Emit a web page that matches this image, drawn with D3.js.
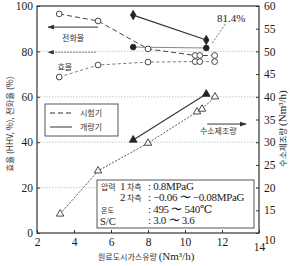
<!DOCTYPE html>
<html>
<head>
<meta charset="utf-8">
<script src="https://cdn.jsdelivr.net/npm/d3@7"></script>
<style>
  body { margin: 0; background: #fff; }
  .num { font-family: "Liberation Serif", "DejaVu Serif", serif; fill: #1a1a1a; }
  .kr { font-family: "Noto Sans CJK KR", sans-serif; fill: #333; }
</style>
</head>
<body>
<div id="chart"></div>
<script>
// test unit (시험기) points
const testX = [3.2, 5.3, 8.0, 10.55, 10.8, 11.6];
const testConversion = [96.5, 93.4, 81.1, 78.2, 78.2, 78.2];
const testEfficiency = [68.7, 74.0, 75.3, 75.5, 75.5, 75.5];
const testH2X = [3.25, 5.3, 8.0, 10.65, 10.92, 11.62];
const testH2 = [14.2, 23.7, 29.8, 36.7, 37.3, 40.0];

// improved unit (개량기) points
const devX = [7.2, 11.15];
const devConversion = [96.0, 85.0];
const devEfficiency = [81.9, 81.5];
const devH2 = [30.5, 40.6];

const xTicks = [2, 4, 6, 8, 10, 12, 14];
const leftTicks = [0, 20, 40, 60, 80, 100];
const rightTicks = [10, 15, 20, 25, 30, 35, 40, 45, 50, 55, 60];

const width = 290, height = 266;
const margin = {top: 6, right: 31, bottom: 33, left: 37};

const svg = d3.select("#chart").append("svg")
  .attr("width", width)
  .attr("height", height);

const x = d3.scaleLinear().domain([2, 14]).range([margin.left, width - margin.right]);
const yL = d3.scaleLinear().domain([0, 100]).range([height - margin.bottom, margin.top]);
const yR = d3.scaleLinear().domain([10, 60]).range([height - margin.bottom, margin.top]);

svg.append("defs").append("marker")
  .attr("id", "arrow")
  .attr("viewBox", "0 0 10 10")
  .attr("refX", 9).attr("refY", 5)
  .attr("markerWidth", 7).attr("markerHeight", 7)
  .attr("orient", "auto")
  .append("path")
  .attr("d", "M0,1.5L10,5L0,8.5z")
  .attr("fill", "#333");

// grid lines
svg.append("g").selectAll("line")
  .data([20, 40, 60, 80])
  .enter().append("line")
  .attr("x1", x(2)).attr("x2", x(14))
  .attr("y1", d => yL(d)).attr("y2", d => yL(d))
  .style("stroke", "#bbb")
  .style("stroke-width", 0.8)
  .style("stroke-dasharray", "1.5,1.5");

// axes
const axL = svg.append("g")
  .attr("transform", `translate(${x(2)},0)`)
  .call(d3.axisLeft(yL).tickValues(leftTicks).tickSize(-3).tickPadding(4));
const axR = svg.append("g")
  .attr("transform", `translate(${x(14)},0)`)
  .call(d3.axisRight(yR).tickValues(rightTicks).tickSize(-3).tickPadding(5));
const axB = svg.append("g")
  .attr("transform", `translate(0,${yL(0)})`)
  .call(d3.axisBottom(x).tickValues(xTicks).tickSize(-3).tickPadding(5));

[axL, axR, axB].forEach(a => {
  a.select(".domain").remove();
  a.selectAll("line").style("stroke", "#333");
  a.selectAll("text").attr("class", "num").style("font-size", "11.5px");
});
axR.selectAll(".tick").filter(d => d === 10).select("text").attr("dy", "0.9em");
axB.selectAll(".tick").filter(d => d === 14).select("text").attr("dy", "1.1em");

svg.append("rect")
  .attr("x", x(2)).attr("y", yL(100))
  .attr("width", x(14) - x(2)).attr("height", yL(0) - yL(100))
  .style("fill", "none")
  .style("stroke", "#333")
  .style("stroke-width", 1.2);

// lines
const testConv = testX.map((d, i) => ({x: d, y: yL(testConversion[i])}));
const testEff = testX.map((d, i) => ({x: d, y: yL(testEfficiency[i])}));
const testHyd = testH2X.map((d, i) => ({x: d, y: yR(testH2[i])}));
const devConv = devX.map((d, i) => ({x: d, y: yL(devConversion[i])}));
const devEff = devX.map((d, i) => ({x: d, y: yL(devEfficiency[i])}));
const devHyd = devX.map((d, i) => ({x: d, y: yR(devH2[i])}));

const line = d3.line().x(d => x(d.x)).y(d => d.y);

const lineStyles = [
  [testConv, "5,3", 1, "#444"],
  [testEff, "3,2.5", 0.9, "#666"],
  [testHyd, "2,1.5", 0.9, "#444"],
  [devConv, null, 1.2, "#333"],
  [devEff, null, 1, "#888"],
  [devHyd, null, 1.1, "#333"]
];
lineStyles.forEach(([data, dash, w, c]) => {
  svg.append("path")
    .datum(data)
    .attr("d", line)
    .style("fill", "none")
    .style("stroke", c)
    .style("stroke-width", w)
    .style("stroke-dasharray", dash);
});

// markers
function drawMarkers(data, type, size, filled) {
  svg.append("g").selectAll("path")
    .data(data)
    .enter().append("path")
    .attr("transform", d => `translate(${x(d.x)},${d.y})`)
    .attr("d", d3.symbol().type(type).size(size))
    .style("fill", filled ? "#222" : "#fff")
    .style("stroke", "#333")
    .style("stroke-width", 0.9);
}
drawMarkers(testConv, d3.symbolCircle, 26, false);
drawMarkers(testEff, d3.symbolCircle, 26, false);
drawMarkers(testHyd, d3.symbolTriangle, 24, false);
drawMarkers(devConv, d3.symbolDiamond, 26, true);
drawMarkers(devEff, d3.symbolCircle, 26, true);
drawMarkers(devHyd, d3.symbolTriangle, 26, true);

// 81.4% callout
const last = devConv[devConv.length - 1];
svg.append("line")
  .attr("x1", x(last.x) + 6).attr("y1", last.y + 3)
  .attr("x2", x(last.x) + 19).attr("y2", last.y - 16)
  .style("stroke", "#555")
  .style("stroke-width", 0.8)
  .style("stroke-dasharray", "2,1.5");
svg.append("text")
  .attr("class", "num")
  .attr("x", x(12.5)).attr("y", yL(93))
  .style("font-size", "11px")
  .style("text-anchor", "middle")
  .text("81.4%");

// arrows with labels
svg.append("line")
  .attr("x1", x(5.3)).attr("x2", x(2.6))
  .attr("y1", yL(90.7)).attr("y2", yL(90.7))
  .style("stroke", "#333").style("stroke-width", 1)
  .attr("marker-end", "url(#arrow)");
svg.append("text").attr("class", "kr")
  .attr("x", x(3.95)).attr("y", yL(84.5))
  .style("font-size", "8px").style("text-anchor", "middle")
  .text("전화율");

svg.append("line")
  .attr("x1", x(5.2)).attr("x2", x(2.6))
  .attr("y1", yL(79.6)).attr("y2", yL(79.6))
  .style("stroke", "#777").style("stroke-width", 0.9)
  .style("stroke-dasharray", "2,1")
  .attr("marker-end", "url(#arrow)");
svg.append("text").attr("class", "kr")
  .attr("x", x(3.5)).attr("y", yL(72))
  .style("font-size", "8px").style("text-anchor", "middle")
  .text("효율");

svg.append("line")
  .attr("x1", x(11.2)).attr("x2", x(13.3))
  .attr("y1", yR(34.0)).attr("y2", yR(34.0))
  .style("stroke", "#333").style("stroke-width", 1)
  .attr("marker-end", "url(#arrow)");
svg.append("text").attr("class", "kr")
  .attr("x", x(11.8)).attr("y", yR(31.8))
  .style("font-size", "8px").style("text-anchor", "middle")
  .text("수소제조량");

// legend
const legend = svg.append("g").attr("transform", "translate(45,104)");
legend.append("rect")
  .attr("width", 73).attr("height", 32)
  .style("fill", "#fff").style("stroke", "#444").style("stroke-width", 0.9);
[["5,3", "시험기"], [null, "개량기"]].forEach(([dash, label], i) => {
  legend.append("line")
    .attr("x1", 5).attr("x2", 27)
    .attr("y1", 9 + i * 14).attr("y2", 9 + i * 14)
    .style("stroke", "#333").style("stroke-width", 1)
    .style("stroke-dasharray", dash);
  legend.append("text").attr("class", "kr")
    .attr("x", 35).attr("y", 12 + i * 14)
    .style("font-size", "8px")
    .text(label);
});

// conditions box
const cond = svg.append("g").attr("transform", "translate(97,180)");
cond.append("rect")
  .attr("width", 157).attr("height", 48)
  .style("fill", "#fff").style("stroke", "#444").style("stroke-width", 0.9);
const condRows = [
  {y: 10, kr: "압력", num: "1", side: "차측", val: ": 0.8MPaG"},
  {y: 21, kr: "", num: "2", side: "차측", val: ": −0.06 〜 −0.08MPaG"},
  {y: 33, kr: "", num: "", side: "", val: ": 495 〜 540℃"},
  {y: 44, kr: "", num: "", side: "", val: ": 3.0 〜 3.6"}
];
condRows.forEach(r => {
  if (r.kr) cond.append("text").attr("class", "kr").attr("x", 4).attr("y", r.y)
    .style("font-size", "8px").text(r.kr);
  if (r.num) cond.append("text").attr("class", "num").attr("x", 23).attr("y", r.y)
    .style("font-size", "11px").text(r.num);
  if (r.side) cond.append("text").attr("class", "kr").attr("x", 30).attr("y", r.y)
    .style("font-size", "8px").text(r.side);
  cond.append("text").attr("class", "num").attr("x", 51).attr("y", r.y)
    .style("font-size", "11px").style("letter-spacing", "-0.3px").text(r.val);
});
cond.append("text").attr("class", "kr").attr("x", 4).attr("y", 33)
  .style("font-size", "7px").text("온도");
cond.append("text").attr("class", "num").attr("x", 3).attr("y", 45)
  .style("font-size", "10.5px").text("S/C");

// axis titles
const yTitle = svg.append("text")
  .attr("transform", `translate(13,${yL(48)}) rotate(-90)`)
  .style("text-anchor", "middle");
yTitle.append("tspan").attr("class", "kr").style("font-size", "8.5px")
  .text("효율 (HHV, %), 전화율 (%)");

const rTitle = svg.append("text")
  .attr("transform", `translate(286,${yL(46)}) rotate(-90)`)
  .style("text-anchor", "middle");
rTitle.append("tspan").attr("class", "kr").style("font-size", "8.5px").text("수소제조량 ");
rTitle.append("tspan").attr("class", "num").style("font-size", "11px").text("(Nm³/h)");

const xTitle = svg.append("text")
  .attr("x", x(7.9)).attr("y", 260)
  .style("text-anchor", "middle");
xTitle.append("tspan").attr("class", "kr").style("font-size", "8px").text("원료도시가스유량   ");
xTitle.append("tspan").attr("class", "num").style("font-size", "11px").text("(Nm³/h)");
</script>
</body>
</html>
